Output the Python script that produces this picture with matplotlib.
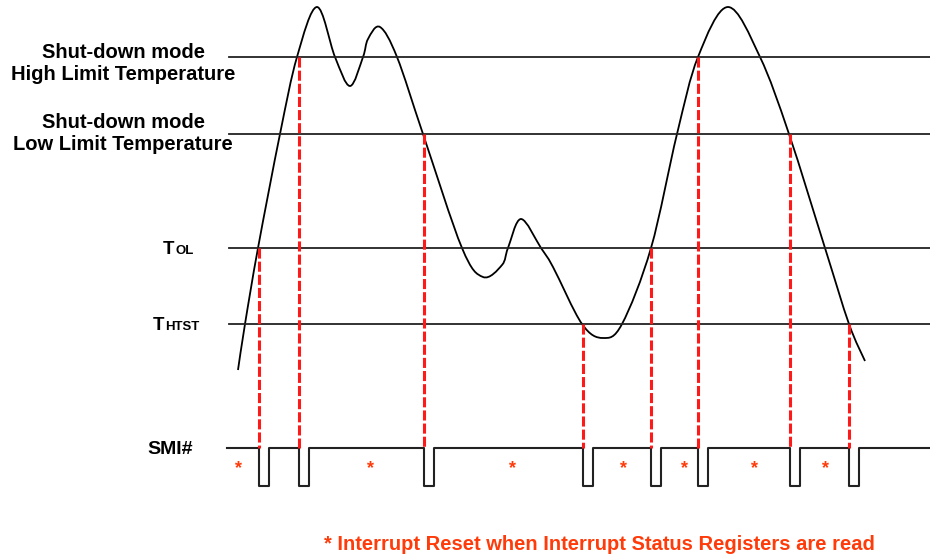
import numpy as np
import matplotlib.pyplot as plt
from matplotlib.path import Path
from matplotlib.patches import PathPatch

plt.rcParams['font.family'] = ['Liberation Sans', 'DejaVu Sans']

# temperature curve (pixel units, y grows downward)
curve_x = [238, 245, 258, 280, 297, 317, 335, 350, 363, 368, 380, 397, 423, 462,
           483, 502, 508, 521, 541, 553, 582, 603, 622, 651, 677, 698, 728,
           760, 789, 825, 849, 865]
curve_y = [370, 324, 248, 134, 57, 7, 57, 86, 57, 39, 27, 57, 134, 248,
           277, 265, 248, 219, 248, 267, 324, 338, 324, 248, 134, 57, 7,
           57, 134, 248, 324, 361]

# threshold levels
level_y = [57, 134, 248, 324]
smi_high = 448
smi_low = 486

# crossings -> SMI# pulses
cross_x = [259, 299, 424, 583, 651, 698, 790, 849]
cross_y = [248, 57, 134, 324, 248, 57, 134, 324]
pulse_w = 10

star_x = [238, 370, 512, 623, 684, 754, 825]

red = '#FF1A1A'
orange = '#FF3B0A'


def smooth_path(xs, ys):
    pts = np.column_stack([xs, ys]).astype(float)
    verts = [pts[0]]
    codes = [Path.MOVETO]
    n = len(pts)
    for i in range(n - 1):
        p0 = pts[i - 1] if i > 0 else pts[i]
        p1 = pts[i]
        p2 = pts[i + 1]
        p3 = pts[i + 2] if i + 2 < n else pts[i + 1]
        c1 = p1 + (p2 - p0) / 6.0
        c2 = p2 - (p3 - p1) / 6.0
        verts += [c1, c2, p2]
        codes += [Path.CURVE4] * 3
    return Path(verts, codes)


fig = plt.figure(figsize=(9.3, 5.56), dpi=100)
ax = fig.add_axes([0, 0, 1, 1])
ax.set_xlim(0, 930)
ax.set_ylim(556, 0)
ax.axis('off')

for y in level_y:
    ax.plot([229, 930], [y, y], color='#222222', lw=1.3)

ax.add_patch(PathPatch(smooth_path(curve_x, curve_y), facecolor='none',
                       edgecolor='black', lw=1.3))

# SMI# waveform
wx = [227]
wy = [smi_high]
for x in cross_x:
    wx += [x, x, x + pulse_w, x + pulse_w]
    wy += [smi_high, smi_low, smi_low, smi_high]
wx.append(930)
wy.append(smi_high)
ax.plot(wx, wy, color='#222222', lw=1.5)

for x, y in zip(cross_x, cross_y):
    ax.plot([x, x], [y, smi_high], color=red, lw=2.2,
            linestyle=(0, (3.3, 1.0)))

for x in star_x:
    ax.text(x, 469, '*', color=orange, fontsize=13, fontweight='bold',
            ha='center', va='center')

# labels
lbl = dict(fontsize=14.5, fontweight='bold', ha='center', va='center')
ax.text(123, 52, 'Shut-down mode', **lbl)
ax.text(123, 74, 'High Limit Temperature', **lbl)
ax.text(123, 123, 'Shut-down mode', **lbl)
ax.text(123, 145, 'Low Limit Temperature', **lbl)

ax.text(163, 254, 'T', fontsize=13.5, fontweight='bold', ha='left', va='baseline')
ax.text(175, 254, 'OL', fontsize=9.5, fontweight='bold', ha='left', va='baseline')
ax.text(153, 330, 'T', fontsize=13.5, fontweight='bold', ha='left', va='baseline')
ax.text(165, 330, 'HTST', fontsize=9.5, fontweight='bold', ha='left', va='baseline')
ax.text(170, 449, 'SMI#', fontsize=14, fontweight='bold', ha='center', va='center')

ax.text(599, 544, '* Interrupt Reset when Interrupt Status Registers are read',
        color=orange, fontsize=14.5, fontweight='bold', ha='center', va='center')

fig.savefig('out.png', dpi=100)
